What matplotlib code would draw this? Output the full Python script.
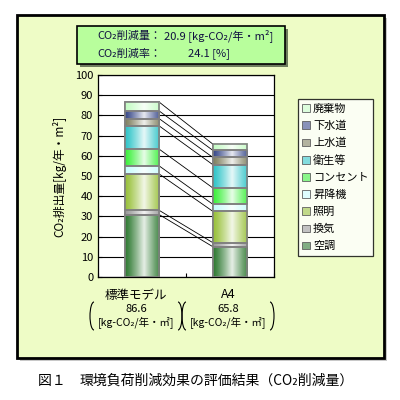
import matplotlib.pyplot as plt
import numpy as np
from matplotlib.patches import Rectangle, Arc

plt.rcParams['font.family'] = ['Noto Sans CJK JP', 'DejaVu Sans']

# data (kg-CO2/year/m2), stacked from the bottom
items = ['空調', '換気', '照明', '昇降機', 'コンセント', '衛生等', '上水道', '下水道', '廃棄物']
standard = [30.9, 2.1, 18.0, 4.0, 8.3, 11.5, 3.6, 3.8, 4.4]
a4 = [15.0, 2.0, 15.5, 3.5, 8.1, 11.5, 3.6, 3.5, 3.1]
cases = ['標準モデル', 'A4']
totals = ['86.6', '65.8']
reduction = '20.9'
rate = '24.1'

colors = ['#2f7a32', '#9a9a9a', '#98c03a', '#c8fcfc', '#3cf03c',
          '#30c4c8', '#808060', '#3a4a8a', '#c4fcc4']

fig = plt.figure(figsize=(4, 4), dpi=100)
fig.patch.set_facecolor('white')

# background overlay in pixel coords
bg = fig.add_axes([0, 0, 1, 1], zorder=0)
bg.set_xlim(0, 400)
bg.set_ylim(400, 0)
bg.axis('off')
bg.add_patch(Rectangle((20, 18), 367, 343, facecolor='#c8c8c8', edgecolor='none'))
bg.add_patch(Rectangle((17, 15), 367, 343, facecolor='#eefcc6', edgecolor='black', lw=2))
bg.add_patch(Rectangle((80, 29), 208, 38, facecolor='#6e7e5e', edgecolor='none'))
bg.add_patch(Rectangle((77, 26), 208, 38, facecolor='#b8fe9c', edgecolor='black', lw=1.2))
tc = '#101040'
bg.text(97, 36, 'CO₂削減量：', fontsize=8, color=tc, va='center')
bg.text(164, 36, reduction + ' [kg-CO₂/年・m²]', fontsize=8, color=tc, va='center')
bg.text(97, 54, 'CO₂削減率：', fontsize=8, color=tc, va='center')
bg.text(188, 54, rate + ' [%]', fontsize=8, color=tc, va='center')

# category labels with brackets
for cx, name, tot in zip([136, 228], cases, totals):
    bg.text(cx, 295, name, fontsize=9, ha='center', va='center')
    bg.text(cx, 309, tot, fontsize=8, ha='center', va='center')
    bg.text(cx, 323, '[kg-CO₂/年・㎡]', fontsize=7.5, ha='center', va='center')
    bg.add_patch(Arc((cx - 42, 316), 8, 28, theta1=90, theta2=270, lw=0.8, color='black'))
    bg.add_patch(Arc((cx + 42, 316), 8, 28, theta1=-90, theta2=90, lw=0.8, color='black'))

bg.text(38, 381, '図１　', fontsize=10, va='center')
bg.text(80, 381, '環境負荷削減効果の評価結果（CO₂削減量）', fontsize=10, va='center')

ax = fig.add_axes([0.245, 0.3075, 0.44, 0.505], zorder=1)
ax.set_facecolor('white')
ax.set_xlim(-0.5, 1.5)
ax.set_ylim(0, 100)
ax.set_yticks(np.arange(0, 101, 10))
ax.set_xticks([-0.5, 0.5, 1.5])
ax.set_xticklabels([])
ax.tick_params(axis='both', direction='in', length=3, labelsize=8, width=0.8)
ax.grid(axis='y', color='black', lw=0.8)
ax.set_axisbelow(True)
for s in ax.spines.values():
    s.set_linewidth(0.9)
ax.set_ylabel('CO₂排出量[kg/年・m²]', fontsize=8.5, labelpad=6)

w = 0.39
xs = np.linspace(0, 1, 40)
shade = np.clip(1 - np.abs(xs - 0.55) / 0.55, 0, 1) ** 1.2 * 0.88

for xi, vals in enumerate([standard, a4]):
    bottoms = np.concatenate([[0], np.cumsum(vals)[:-1]])
    bars = ax.bar(xi, vals, w, bottom=bottoms, color=colors, edgecolor='#808080',
                  lw=1.2, zorder=2)
    for b, c in zip(bars, colors):
        rgb = np.array(plt.matplotlib.colors.to_rgb(c))
        grad = rgb[None, :] * (1 - shade[:, None]) + shade[:, None]
        x0, y0 = b.get_x(), b.get_y()
        ax.imshow(grad[None, :, :], extent=(x0, x0 + b.get_width(), y0, y0 + b.get_height()),
                  aspect='auto', zorder=2.5, interpolation='bilinear')
        ax.add_patch(Rectangle((x0, y0), b.get_width(), b.get_height(), fill=False,
                               edgecolor='#808080', lw=1.2, zorder=3))
ax.set_xlim(-0.5, 1.5)
ax.set_ylim(0, 100)

# series lines
c1 = np.cumsum(standard)
c2 = np.cumsum(a4)
for y1, y2 in zip(c1, c2):
    ax.plot([0 + w / 2, 1 - w / 2], [y1, y2], color='black', lw=0.6, zorder=2)

# legend
handles = []
for c in colors[::-1]:
    rgb = np.array(plt.matplotlib.colors.to_rgb(c))
    light = rgb * 0.6 + 0.4
    handles.append(Rectangle((0, 0), 1, 1, facecolor=light, edgecolor='#606060', lw=0.6))
leg = fig.legend(handles, items[::-1], loc='upper left', bbox_to_anchor=(0.745, 0.7525),
                 bbox_transform=fig.transFigure, fontsize=8, frameon=True, fancybox=False,
                 handlelength=0.7, handleheight=0.7, handletextpad=0.25, labelspacing=0.62,
                 borderpad=0.4, borderaxespad=0)
leg.get_frame().set_edgecolor('black')
leg.get_frame().set_linewidth(0.9)
leg.set_zorder(5)

fig.savefig('out.png', dpi=100)
